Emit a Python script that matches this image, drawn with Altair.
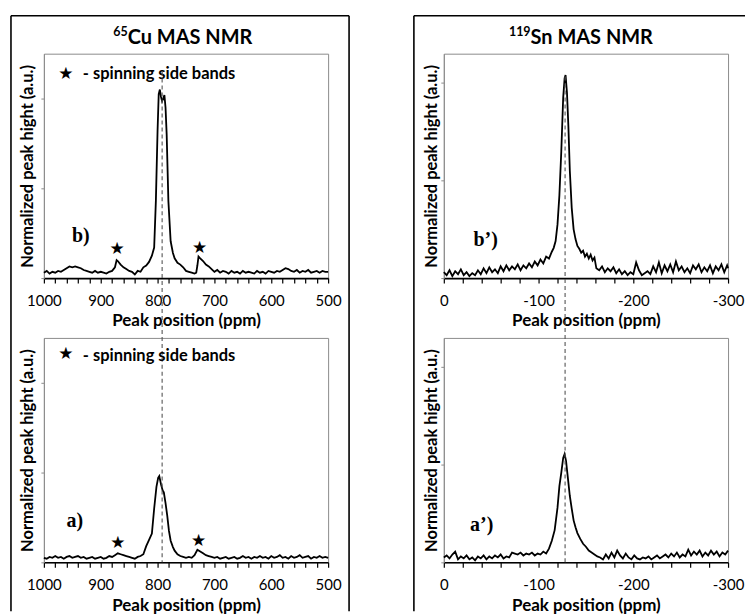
import altair as alt
import pandas as pd

FONT = "Lato"
SERIF = "Liberation Serif"

# ---------------- data ----------------
cu_b_ppm = [1000, 995, 990, 985, 980, 975, 970, 965, 960, 955, 950, 945, 940, 935, 930, 925, 920, 915, 910, 905,
            900, 895, 890, 885, 880, 875, 872, 870, 865, 860, 855, 850, 845, 840, 835, 830, 825, 820, 815, 810,
            806, 803, 800, 798, 796, 794, 792, 790, 788, 786, 784, 781, 777, 773, 770, 765, 760, 755, 750, 745,
            740, 735, 732, 730, 728, 725, 720, 715, 710, 705, 700, 695, 690, 685, 680, 675, 670, 665, 660, 655,
            650, 645, 640, 635, 630, 625, 620, 615, 610, 605, 600, 595, 590, 585, 580, 575, 570, 565, 560, 555,
            550, 545, 540, 535, 530, 525, 520, 515, 510, 505, 500]
cu_b_int = [0.06, 0.08, 0.05, 0.07, 0.06, 0.08, 0.07, 0.09, 0.11, 0.13, 0.12, 0.13, 0.12, 0.11, 0.09, 0.08, 0.07, 0.06, 0.08, 0.06,
            0.07, 0.06, 0.05, 0.07, 0.08, 0.12, 0.20, 0.19, 0.15, 0.12, 0.10, 0.08, 0.07, 0.04, 0.08, 0.07, 0.12, 0.14, 0.18, 0.25,
            0.34, 0.86, 1.65, 2.05, 2.10, 2.02, 1.97, 2.00, 2.04, 1.90, 1.60, 0.86, 0.41, 0.28, 0.22, 0.17, 0.15, 0.12, 0.08, 0.07,
            0.06, 0.05, 0.06, 0.14, 0.24, 0.22, 0.19, 0.15, 0.13, 0.10, 0.07, 0.09, 0.06, 0.08, 0.07, 0.05, 0.08, 0.06, 0.07, 0.05,
            0.08, 0.06, 0.07, 0.06, 0.05, 0.08, 0.06, 0.07, 0.05, 0.08, 0.07, 0.06, 0.08, 0.07, 0.09, 0.11, 0.10, 0.08, 0.07, 0.09,
            0.06, 0.08, 0.07, 0.09, 0.06, 0.07, 0.08, 0.06, 0.08, 0.07, 0.07]

cu_a_ppm = [1000, 995, 990, 985, 980, 975, 970, 965, 960, 955, 950, 945, 940, 935, 930, 925, 920, 915, 910, 905,
            900, 895, 890, 885, 880, 875, 870, 865, 860, 855, 850, 845, 840, 835, 830, 825, 820, 815, 810, 806,
            802, 799, 797, 794, 791, 789, 786, 783, 780, 777, 773, 770, 765, 760, 755, 750, 745, 740, 735, 730,
            725, 720, 715, 710, 705, 700, 695, 690, 685, 680, 675, 670, 665, 660, 655, 650, 645, 640, 635, 630,
            625, 620, 615, 610, 605, 600, 595, 590, 585, 580, 575, 570, 565, 560, 555, 550, 545, 540, 535, 530,
            525, 520, 515, 510, 505, 500]
cu_a_int = [0.05, 0.04, 0.06, 0.05, 0.07, 0.05, 0.06, 0.04, 0.06, 0.07, 0.05, 0.06, 0.07, 0.05, 0.06, 0.04, 0.05, 0.06, 0.04, 0.05,
            0.06, 0.04, 0.05, 0.07, 0.06, 0.08, 0.10, 0.09, 0.08, 0.07, 0.06, 0.05, 0.04, 0.06, 0.07, 0.09, 0.18, 0.25, 0.32, 0.60,
            0.84, 0.94, 0.96, 0.87, 0.80, 0.78, 0.66, 0.52, 0.35, 0.24, 0.17, 0.13, 0.09, 0.07, 0.06, 0.05, 0.06, 0.05, 0.08, 0.14,
            0.12, 0.10, 0.08, 0.07, 0.06, 0.05, 0.06, 0.04, 0.05, 0.06, 0.04, 0.05, 0.06, 0.04, 0.05, 0.07, 0.05, 0.06, 0.04, 0.06,
            0.05, 0.07, 0.05, 0.06, 0.04, 0.07, 0.05, 0.06, 0.08, 0.05, 0.06, 0.04, 0.07, 0.05, 0.06, 0.08, 0.05, 0.06, 0.07, 0.04,
            0.06, 0.05, 0.07, 0.05, 0.06, 0.05]

sn_b_ppm = [0, -3, -6, -9, -12, -15, -18, -21, -24, -27, -30, -33, -36, -39, -42, -45, -48, -51, -54, -57,
            -60, -63, -66, -69, -72, -75, -78, -81, -84, -87, -90, -93, -96, -99, -102, -105, -108, -111, -114, -116,
            -118, -120, -122, -124, -126, -127.5, -128.5, -130, -131.5, -133, -135, -137, -139, -141, -143, -145, -147, -149, -151, -153,
            -155, -157, -159, -161, -164, -167, -170, -173, -176, -179, -182, -185, -188, -191, -194, -197, -200, -203, -206, -209,
            -212, -215, -218, -221, -224, -227, -230, -233, -236, -239, -242, -245, -248, -251, -254, -257, -260, -263, -266, -269,
            -272, -275, -278, -281, -284, -287, -290, -293, -296, -299, -300]
sn_b_int = [0.06, 0.03, 0.08, 0.02, 0.07, 0.04, 0.09, 0.03, 0.06, 0.02, 0.05, 0.03, 0.08, 0.04, 0.10, 0.05, 0.11, 0.06, 0.09, 0.05,
            0.12, 0.07, 0.13, 0.08, 0.12, 0.09, 0.14, 0.08, 0.13, 0.10, 0.15, 0.11, 0.17, 0.13, 0.19, 0.15, 0.22, 0.20, 0.27, 0.31,
            0.38, 0.55, 0.85, 1.30, 1.85, 2.05, 2.08, 1.90, 1.55, 1.10, 0.72, 0.50, 0.40, 0.33, 0.30, 0.26, 0.28, 0.22, 0.25, 0.20,
            0.24, 0.18, 0.21, 0.10, 0.08, 0.12, 0.06, 0.10, 0.07, 0.11, 0.05, 0.09, 0.04, 0.07, 0.03, 0.06, 0.04, 0.16, 0.08, 0.03,
            0.05, 0.07, 0.04, 0.12, 0.06, 0.16, 0.05, 0.13, 0.07, 0.14, 0.06, 0.17, 0.08, 0.12, 0.06, 0.10, 0.05, 0.13, 0.09, 0.14,
            0.06, 0.11, 0.07, 0.13, 0.05, 0.12, 0.08, 0.14, 0.06, 0.13, 0.10]

sn_a_ppm = [0, -3, -6, -9, -12, -15, -18, -21, -24, -27, -30, -33, -36, -39, -42, -45, -48, -51, -54, -57,
            -60, -63, -66, -69, -72, -75, -78, -81, -84, -87, -90, -93, -96, -99, -102, -105, -108, -111, -114, -117,
            -120, -122, -124, -126, -127.5, -129, -131, -133, -135, -137, -139, -141, -144, -147, -150, -153, -156, -159, -162, -165,
            -168, -171, -174, -177, -180, -183, -186, -189, -192, -195, -198, -201, -204, -207, -210, -213, -216, -219, -222, -225,
            -228, -231, -234, -237, -240, -243, -246, -249, -252, -255, -258, -261, -264, -267, -270, -273, -276, -279, -282, -285,
            -288, -291, -294, -297, -300]
sn_a_int = [0.05, 0.07, 0.04, 0.08, 0.11, 0.03, 0.06, 0.04, 0.07, 0.03, 0.05, 0.02, 0.06, 0.04, 0.07, 0.03, 0.06, 0.04, 0.07, 0.05,
            0.08, 0.04, 0.06, 0.05, 0.10, 0.09, 0.08, 0.10, 0.07, 0.09, 0.08, 0.10, 0.07, 0.09, 0.08, 0.11, 0.09, 0.14, 0.22, 0.33,
            0.56, 0.78, 0.92, 1.07, 1.11, 1.04, 0.86, 0.68, 0.55, 0.43, 0.36, 0.30, 0.24, 0.19, 0.16, 0.12, 0.10, 0.08, 0.06, 0.05,
            0.03, 0.08, 0.04, 0.10, 0.05, 0.12, 0.07, 0.04, 0.09, 0.05, 0.03, 0.07, 0.04, 0.03, 0.05, 0.04, 0.06, 0.03, 0.05, 0.07,
            0.04, 0.06, 0.08, 0.05, 0.09, 0.06, 0.10, 0.05, 0.08, 0.06, 0.13, 0.07, 0.11, 0.08, 0.12, 0.06, 0.10, 0.07, 0.12, 0.08,
            0.11, 0.06, 0.10, 0.08, 0.12]

cu_ref_ppm = [792]
sn_ref_ppm = [-128]

cu_b_star_ppm = [871, 726]
cu_b_star_int = [0.32, 0.34]
cu_a_star_ppm = [870, 728]
cu_a_star_int = [0.21, 0.24]

cu_x_ticks = list(range(500, 1001, 20))
sn_x_ticks = list(range(-300, 1, 20))
y_ticks = [0, 1, 2]

cu_iso, cu_name = "65", "Cu MAS NMR"
sn_iso, sn_name = "119", "Sn MAS NMR"
legend_text = "- spinning side bands"
x_title = "Peak position (ppm)"
y_title = "Normalized peak hight (a.u.)"

for a, b in [(cu_b_ppm, cu_b_int), (cu_a_ppm, cu_a_int), (sn_b_ppm, sn_b_int), (sn_a_ppm, sn_a_int)]:
    assert len(a) == len(b), (len(a), len(b))

W, H = 285, 225
ONE = pd.DataFrame({"k": [0]})


def enc_xy(xdom, xticks, ydom, ytp):
    x = alt.X("ppm:Q",
              scale=alt.Scale(domain=xdom, reverse=True, nice=False, zero=False),
              axis=alt.Axis(values=xticks, title=x_title,
                            labelExpr="datum.value % 100 == 0 ? '' + datum.value : ''"))
    y = alt.Y("int:Q",
              scale=alt.Scale(domain=ydom, nice=False, zero=False),
              axis=alt.Axis(values=y_ticks, labels=False, title=y_title, titlePadding=ytp))
    return x, y


def txt(text, px, py, size, font=FONT, weight="bold", align="left", baseline="middle"):
    return alt.Chart(ONE).mark_text(text=text, font=font, fontSize=size, fontWeight=weight,
                                    align=align, baseline=baseline, color="black").encode(
        x=alt.value(px), y=alt.value(py))


def vline(px, py, py2, width=1.6):
    return alt.Chart(ONE).mark_rule(color="black", strokeWidth=width).encode(
        x=alt.value(px), y=alt.value(py), y2=alt.value(py2))


def hline(px, px2, py, width=1.6):
    return alt.Chart(ONE).mark_rule(color="black", strokeWidth=width).encode(
        x=alt.value(px), x2=alt.value(px2), y=alt.value(py))


def panel(ppm, inten, xdom, xticks, ydom, ytp, label, label_xy, extra):
    x, y = enc_xy(xdom, xticks, ydom, ytp)
    df = pd.DataFrame({"ppm": ppm, "int": inten})
    line = alt.Chart(df).mark_line(color="black", strokeWidth=1.8).encode(x=x, y=y)
    lab = txt(label, label_xy[0], label_xy[1], 20, font=SERIF, align="center")
    return alt.layer(line, lab, *extra(x, y)).properties(width=W, height=H)


def stars(sppm, sint, x, y):
    d = pd.DataFrame({"ppm": sppm, "int": sint})
    return alt.Chart(d).mark_text(text="\u2605", font="DejaVu Sans", fontSize=17,
                                  baseline="middle", color="black").encode(x=x, y=y)


def ref_rule(ref, x, top_px):
    d = pd.DataFrame({"ppm": ref})
    return alt.Chart(d).mark_rule(color="#555555", strokeWidth=1.1, strokeDash=[4, 3]).encode(
        x=x, y=alt.value(top_px), y2=alt.value(H))


def title_marks(iso, name, left_px):
    return [
        txt(iso, left_px, -18, 12.5, align="right", baseline="alphabetic"),
        txt(name, left_px, -10, 20, align="left", baseline="alphabetic"),
    ]


def cu_b_extra(x, y):
    return [
        stars(cu_b_star_ppm, cu_b_star_int, x, y),
        txt("\u2605", 22, 20, 17, font="DejaVu Sans", align="center"),
        txt(legend_text, 39, 20, 16.5),
        *title_marks(cu_iso, cu_name, 84),
        vline(-33, -38, 559), hline(-33, 306, -38), vline(306, -38, 559),
    ]


def cu_a_extra(x, y):
    return [
        ref_rule(cu_ref_ppm, x, -267),
        stars(cu_a_star_ppm, cu_a_star_int, x, y),
        txt("\u2605", 22, 16, 17, font="DejaVu Sans", align="center"),
        txt(legend_text, 39, 18, 16.5),
    ]


def sn_b_extra(x, y):
    return [
        *title_marks(sn_iso, sn_name, 87),
        vline(-30, -38, 559), hline(-30, 302, -38),
    ]


def sn_a_extra(x, y):
    return [ref_rule(sn_ref_ppm, x, -262)]


p_cu_b = panel(cu_b_ppm, cu_b_int, [500, 1000], cu_x_ticks, [0, 2.5], 4.5, "b)", (37, 183), cu_b_extra)
p_cu_a = panel(cu_a_ppm, cu_a_int, [500, 1000], cu_x_ticks, [0, 2.5], 4.5, "a)", (31, 184), cu_a_extra)
p_sn_b = panel(sn_b_ppm, sn_b_int, [-300, 0], sn_x_ticks, [0, 2.3], 0.5, "b\u2019)", (42, 187), sn_b_extra)
p_sn_a = panel(sn_a_ppm, sn_a_int, [-300, 0], sn_x_ticks, [0, 2.3], 0.5, "a\u2019)", (38, 188), sn_a_extra)

chart = (
    alt.concat(p_cu_b, p_sn_b, p_cu_a, p_sn_a, columns=2,
               spacing={"row": 60, "column": 116}, bounds="flush")
    .properties(padding={"left": 9, "top": 13, "right": 0, "bottom": 0}, background="white")
    .configure_view(stroke="#8c8c8c", strokeWidth=1)
    .configure_axis(grid=False, labelFont=FONT, titleFont=FONT, labelColor="black", titleColor="black",
                    labelFontSize=15, labelFontWeight="normal", titleFontSize=17, titleFontWeight="bold")
    .configure_axisX(domainColor="black", domainWidth=1.6, tickColor="black", tickWidth=1.2, tickSize=5,
                     labelPadding=10, titlePadding=5, labelFlush=False, labelOverlap=False)
    .configure_axisY(domainColor="#8c8c8c", domainWidth=1, tickColor="#8c8c8c", tickSize=3,
                     titleFontSize=16.5)
)

chart.save("out.html", embed_options={"renderer": "svg", "actions": False})
